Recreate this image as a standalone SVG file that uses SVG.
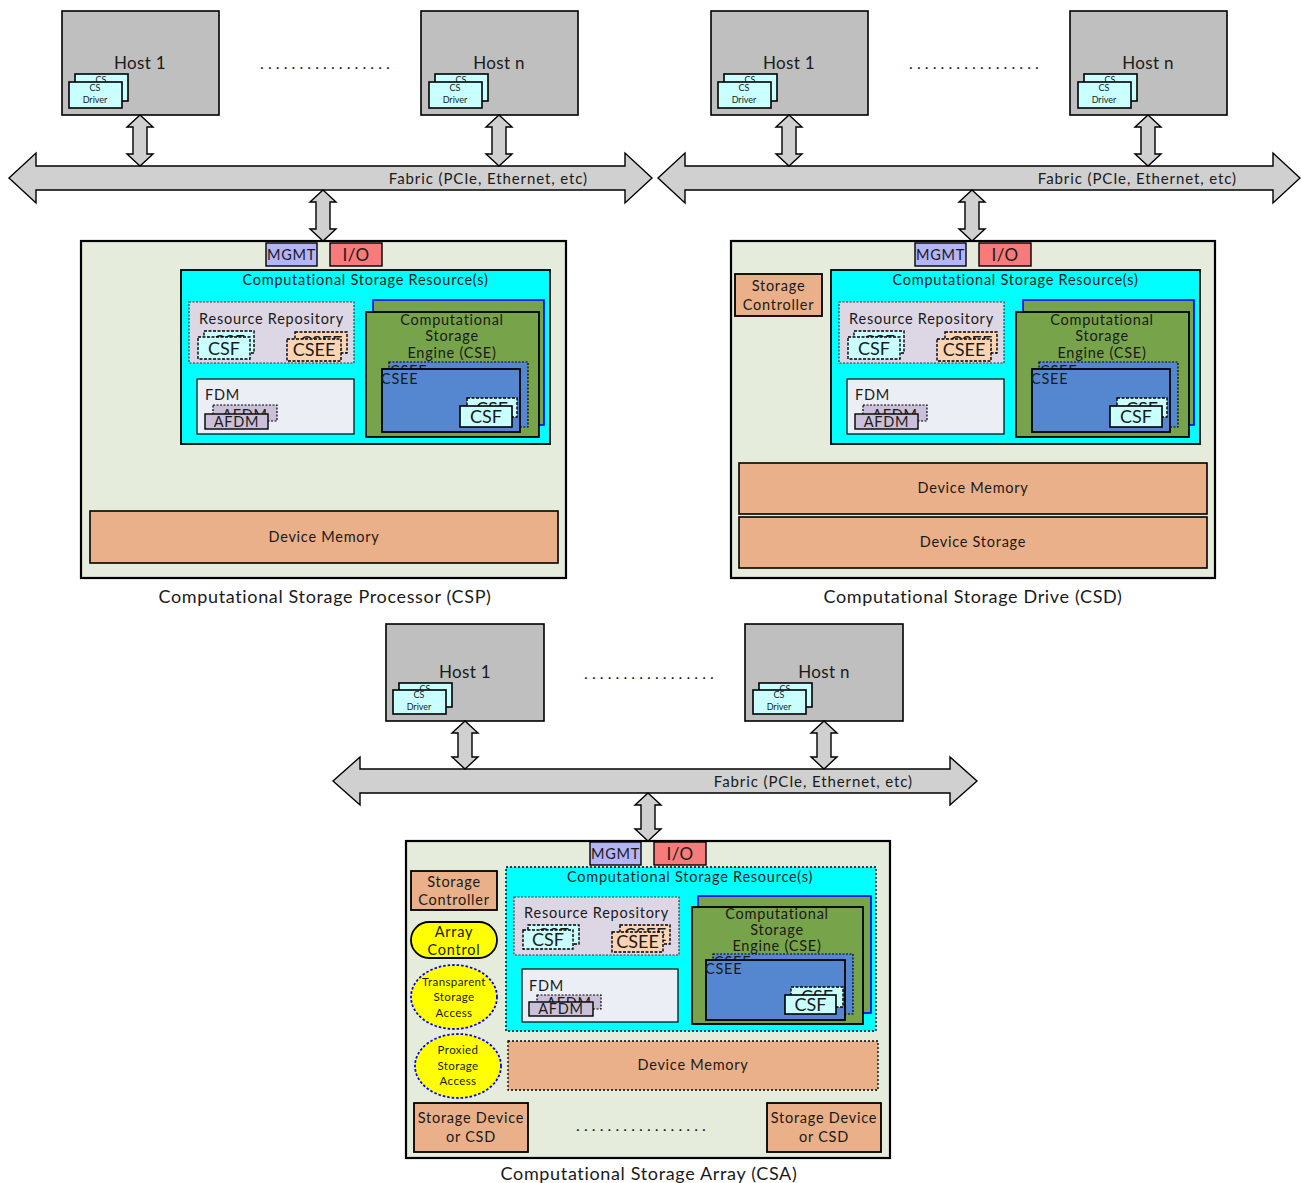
<svg xmlns="http://www.w3.org/2000/svg" width="1301" height="1183" viewBox="0 0 1301 1183">
  <style>
    text { font-family: Lato, "Liberation Sans", sans-serif; fill: #1a1a1a; }
    .mid { text-anchor: middle; }
    .host { fill: #bfbfbf; stroke: #000; stroke-width: 1.6; }
    .drv { fill: #c9ffff; stroke: #000; stroke-width: 1.6; }
    .bus { fill: #d0d0d0; stroke: #000; stroke-width: 1.4; stroke-linejoin: miter; }
    .dev { fill: #e5ecdb; stroke: #000; stroke-width: 2.2; }
    .mgmt { fill: #b4b4f6; stroke: #000; stroke-width: 1.4; }
    .io { fill: #f87b7b; stroke: #000; stroke-width: 1.4; }
    .csr { fill: #00ffff; stroke: #000; stroke-width: 1.8; }
    .csr-dot { fill: #00ffff; stroke: #000; stroke-width: 1.4; stroke-dasharray: 2 2; }
    .repo { fill: #ddd6e4; stroke: #333; stroke-width: 1.2; stroke-dasharray: 2 1.5; }
    .csf { fill: #c9ffff; stroke: #000; stroke-width: 1.4; stroke-dasharray: 3 1.5; }
    .csf-solid { fill: #c9ffff; stroke: #000; stroke-width: 1.6; }
    .csee { fill: #fbd4b4; stroke: #000; stroke-width: 1.4; stroke-dasharray: 3 1.5; }
    .fdm { fill: #ebeef5; stroke: #000; stroke-width: 1.2; }
    .afdm { fill: #cbc0d9; stroke: #000; stroke-width: 1.4; }
    .afdm-dot { fill: #cbc0d9; stroke: #000; stroke-width: 1.2; stroke-dasharray: 2 1.5; }
    .cse-back { fill: #77a34b; stroke: #0000ff; stroke-width: 1.6; }
    .cse { fill: #77a34b; stroke: #000; stroke-width: 1.8; }
    .env-back { fill: #5587d0; stroke: #000; stroke-width: 1.2; stroke-dasharray: 2 1.5; }
    .env { fill: #5587d0; stroke: #000; stroke-width: 1.8; }
    .mem { fill: #eab089; stroke: #000; stroke-width: 1.6; }
    .mem-dot { fill: #eab089; stroke: #000; stroke-width: 1.3; stroke-dasharray: 2 2; }
    .ctl { fill: #eab089; stroke: #000; stroke-width: 1.8; }
    .yel { fill: #ffff00; stroke: #000; stroke-width: 1.8; }
    .yel-dash { fill: #ffff00; stroke: #0000ff; stroke-width: 1.8; stroke-dasharray: 2.5 2; }
    .t9 { font-size: 9px; }
    .t11 { font-size: 11.5px; letter-spacing: 0.4px; }
    .t14 { font-size: 14.5px; letter-spacing: 0.75px; }
    .t17 { font-size: 17px; letter-spacing: 0.3px; }
    .t18 { font-size: 18px; }
    .cap { font-size: 18px; letter-spacing: 0.65px; }
    .fab { font-size: 15px; letter-spacing: 0.9px; text-anchor: end; }
    .dots { font-size: 16px; letter-spacing: 4.1px; }
  </style>

  <!-- ============ Panel 1 : CSP ============ -->
  <g id="csp-host-1" transform="translate(62,11)">
    <rect class="host" x="0" y="0" width="157" height="104"/>
    <text class="mid t17" x="78" y="58">Host 1</text>
    <rect class="drv" x="13" y="63" width="53" height="27"/>
    <text class="mid t9" x="39" y="72">CS</text>
    <rect class="drv" x="7" y="71" width="53" height="26"/>
    <text class="mid t9" x="33" y="80">CS</text>
    <text class="mid t9" x="33" y="92">Driver</text>
  </g>
  <g id="csp-host-n" transform="translate(421,11)">
    <rect class="host" x="0" y="0" width="157" height="104"/>
    <text class="mid t17" x="78" y="58">Host n</text>
    <rect class="drv" x="14" y="63" width="53" height="27"/>
    <text class="mid t9" x="40" y="72">CS</text>
    <rect class="drv" x="8" y="71" width="53" height="26"/>
    <text class="mid t9" x="34" y="80">CS</text>
    <text class="mid t9" x="34" y="92">Driver</text>
  </g>
  <text id="csp-host-gap" class="dots" x="260" y="69">.................</text>

  <g id="csp-device">
    <rect class="dev" x="81" y="241" width="485" height="337"/>
    <rect class="mgmt" x="266" y="243" width="51" height="23"/>
    <text class="mid t14" x="291.5" y="260">MGMT</text>
    <rect class="io" x="330" y="243" width="52" height="23"/>
    <text class="mid t17" x="356" y="261">I/O</text>

    <g id="csp-csr">
      <rect class="csr" x="181" y="270" width="369" height="174"/>
      <text class="mid t14" x="365.5" y="285">Computational Storage Resource(s)</text>
      <rect class="repo" x="189" y="302" width="165" height="61"/>
      <text class="mid t14" x="271.5" y="324">Resource Repository</text>
      <rect class="csf" x="204" y="331" width="50" height="22"/>
      <text class="mid t18" x="229" y="348">CSF</text>
      <rect class="csf" x="198" y="337" width="52" height="22"/>
      <text class="mid t18" x="224" y="355">CSF</text>
      <rect class="csee" x="295" y="332" width="52" height="21"/>
      <text class="mid t18" x="321" y="349">CSEE</text>
      <rect class="csee" x="287" y="339" width="54" height="22"/>
      <text class="mid t18" x="314" y="356">CSEE</text>
      <rect class="fdm" x="197" y="379" width="157" height="55"/>
      <text class="t14" x="205" y="400">FDM</text>
      <rect class="afdm-dot" x="213" y="405" width="64" height="16"/>
      <text class="mid t14" x="245" y="420">AFDM</text>
      <rect class="afdm" x="205" y="414" width="63" height="15"/>
      <text class="mid t14" x="236.5" y="427">AFDM</text>
      <rect class="cse-back" x="373" y="300" width="171" height="125"/>
      <rect class="cse" x="366" y="312" width="173" height="125"/>
      <text class="mid t14" x="452" y="325">Computational</text>
      <text class="mid t14" x="452" y="341">Storage</text>
      <text class="mid t14" x="452" y="358">Engine (CSE)</text>
      <rect class="env-back" x="389" y="362" width="139" height="65"/>
      <text class="t14" x="390" y="376">CSEE</text>
      <rect class="env" x="382" y="369" width="138" height="63"/>
      <text class="t14" x="381" y="384">CSEE</text>
      <rect class="csf" x="467" y="398" width="50" height="19"/>
      <text class="mid t18" x="492" y="415">CSF</text>
      <rect class="csf-solid" x="460" y="406" width="52" height="21"/>
      <text class="mid t18" x="486" y="423">CSF</text>
    </g>

    <rect class="mem" x="90" y="511" width="468" height="52"/>
    <text class="mid t14" x="324" y="542">Device Memory</text>
  </g>
  <text id="csp-caption" class="mid cap" x="325" y="603">Computational Storage Processor (CSP)</text>

  <!-- ============ Panel 2 : CSD ============ -->
  <g id="csd-host-1" transform="translate(711,11)">
    <rect class="host" x="0" y="0" width="157" height="104"/>
    <text class="mid t17" x="78" y="58">Host 1</text>
    <rect class="drv" x="13" y="63" width="53" height="27"/>
    <text class="mid t9" x="39" y="72">CS</text>
    <rect class="drv" x="7" y="71" width="53" height="26"/>
    <text class="mid t9" x="33" y="80">CS</text>
    <text class="mid t9" x="33" y="92">Driver</text>
  </g>
  <g id="csd-host-n" transform="translate(1070,11)">
    <rect class="host" x="0" y="0" width="157" height="104"/>
    <text class="mid t17" x="78" y="58">Host n</text>
    <rect class="drv" x="14" y="63" width="53" height="27"/>
    <text class="mid t9" x="40" y="72">CS</text>
    <rect class="drv" x="8" y="71" width="53" height="26"/>
    <text class="mid t9" x="34" y="80">CS</text>
    <text class="mid t9" x="34" y="92">Driver</text>
  </g>
  <text id="csd-host-gap" class="dots" x="909" y="69">.................</text>

  <g id="csd-device">
    <rect class="dev" x="731" y="241" width="484" height="337"/>
    <rect class="mgmt" x="915" y="243" width="51" height="23"/>
    <text class="mid t14" x="940.5" y="260">MGMT</text>
    <rect class="io" x="979" y="243" width="52" height="23"/>
    <text class="mid t17" x="1005" y="261">I/O</text>
    <rect class="ctl" x="735" y="274" width="87" height="42"/>
    <text class="mid t14" x="778.5" y="291">Storage</text>
    <text class="mid t14" x="778.5" y="310">Controller</text>

    <g id="csd-csr" transform="translate(650,0)">
      <rect class="csr" x="181" y="270" width="369" height="174"/>
      <text class="mid t14" x="365.5" y="285">Computational Storage Resource(s)</text>
      <rect class="repo" x="189" y="302" width="165" height="61"/>
      <text class="mid t14" x="271.5" y="324">Resource Repository</text>
      <rect class="csf" x="204" y="331" width="50" height="22"/>
      <text class="mid t18" x="229" y="348">CSF</text>
      <rect class="csf" x="198" y="337" width="52" height="22"/>
      <text class="mid t18" x="224" y="355">CSF</text>
      <rect class="csee" x="295" y="332" width="52" height="21"/>
      <text class="mid t18" x="321" y="349">CSEE</text>
      <rect class="csee" x="287" y="339" width="54" height="22"/>
      <text class="mid t18" x="314" y="356">CSEE</text>
      <rect class="fdm" x="197" y="379" width="157" height="55"/>
      <text class="t14" x="205" y="400">FDM</text>
      <rect class="afdm-dot" x="213" y="405" width="64" height="16"/>
      <text class="mid t14" x="245" y="420">AFDM</text>
      <rect class="afdm" x="205" y="414" width="63" height="15"/>
      <text class="mid t14" x="236.5" y="427">AFDM</text>
      <rect class="cse-back" x="373" y="300" width="171" height="125"/>
      <rect class="cse" x="366" y="312" width="173" height="125"/>
      <text class="mid t14" x="452" y="325">Computational</text>
      <text class="mid t14" x="452" y="341">Storage</text>
      <text class="mid t14" x="452" y="358">Engine (CSE)</text>
      <rect class="env-back" x="389" y="362" width="139" height="65"/>
      <text class="t14" x="390" y="376">CSEE</text>
      <rect class="env" x="382" y="369" width="138" height="63"/>
      <text class="t14" x="381" y="384">CSEE</text>
      <rect class="csf" x="467" y="398" width="50" height="19"/>
      <text class="mid t18" x="492" y="415">CSF</text>
      <rect class="csf-solid" x="460" y="406" width="52" height="21"/>
      <text class="mid t18" x="486" y="423">CSF</text>
    </g>

    <rect class="mem" x="739" y="463" width="468" height="51"/>
    <text class="mid t14" x="973" y="493">Device Memory</text>
    <rect class="mem" x="739" y="517" width="468" height="51"/>
    <text class="mid t14" x="973" y="547">Device Storage</text>
  </g>
  <text id="csd-caption" class="mid cap" x="973" y="603">Computational Storage Drive (CSD)</text>

  <!-- ============ Panel 3 : CSA ============ -->
  <g id="csa-host-1" transform="translate(386,624)">
    <rect class="host" x="0" y="0" width="158" height="97"/>
    <text class="mid t17" x="79" y="54">Host 1</text>
    <rect class="drv" x="13" y="59" width="53" height="24"/>
    <text class="mid t9" x="39" y="68">CS</text>
    <rect class="drv" x="7" y="66" width="53" height="24"/>
    <text class="mid t9" x="33" y="74">CS</text>
    <text class="mid t9" x="33" y="86">Driver</text>
  </g>
  <g id="csa-host-n" transform="translate(745,624)">
    <rect class="host" x="0" y="0" width="158" height="97"/>
    <text class="mid t17" x="79" y="54">Host n</text>
    <rect class="drv" x="14" y="59" width="53" height="24"/>
    <text class="mid t9" x="40" y="68">CS</text>
    <rect class="drv" x="8" y="66" width="53" height="24"/>
    <text class="mid t9" x="34" y="74">CS</text>
    <text class="mid t9" x="34" y="86">Driver</text>
  </g>
  <text id="csa-host-gap" class="dots" x="584" y="679">.................</text>

  <g id="csa-device">
    <rect class="dev" x="406" y="841" width="484" height="317"/>
    <rect class="mgmt" x="590" y="842" width="51" height="23"/>
    <text class="mid t14" x="615.5" y="859">MGMT</text>
    <rect class="io" x="654" y="842" width="52" height="23"/>
    <text class="mid t17" x="680" y="860">I/O</text>

    <rect class="ctl" x="411" y="871" width="86" height="39"/>
    <text class="mid t14" x="454" y="887">Storage</text>
    <text class="mid t14" x="454" y="905">Controller</text>
    <rect class="yel" x="411" y="922" width="86" height="36" rx="18" ry="18"/>
    <text class="mid t14" x="454" y="937">Array</text>
    <text class="mid t14" x="454" y="955">Control</text>
    <ellipse class="yel-dash" cx="454" cy="997" rx="43" ry="32"/>
    <text class="mid t11" x="454" y="986">Transparent</text>
    <text class="mid t11" x="454" y="1001">Storage</text>
    <text class="mid t11" x="454" y="1017">Access</text>
    <ellipse class="yel-dash" cx="458" cy="1066" rx="43" ry="32"/>
    <text class="mid t11" x="458" y="1054">Proxied</text>
    <text class="mid t11" x="458" y="1070">Storage</text>
    <text class="mid t11" x="458" y="1085">Access</text>

    <g id="csa-csr">
      <rect class="csr-dot" x="506" y="867" width="370" height="164"/>
      <text class="mid t14" x="690" y="882">Computational Storage Resource(s)</text>
      <rect class="repo" x="514" y="897" width="165" height="58"/>
      <text class="mid t14" x="596.5" y="918">Resource Repository</text>
      <rect class="csf" x="528" y="925" width="51" height="19"/>
      <text class="mid t18" x="553" y="941">CSF</text>
      <rect class="csf" x="523" y="930" width="50" height="19"/>
      <text class="mid t18" x="548" y="946">CSF</text>
      <rect class="csee" x="620" y="925" width="50" height="19"/>
      <text class="mid t18" x="645" y="941">CSEE</text>
      <rect class="csee" x="612" y="932" width="51" height="20"/>
      <text class="mid t18" x="637.5" y="948">CSEE</text>
      <rect class="fdm" x="522" y="969" width="156" height="53"/>
      <text class="t14" x="529" y="991">FDM</text>
      <rect class="afdm-dot" x="537" y="995" width="64" height="14"/>
      <text class="mid t14" x="569" y="1008">AFDM</text>
      <rect class="afdm" x="529" y="1002" width="64" height="14"/>
      <text class="mid t14" x="561" y="1014">AFDM</text>
      <rect class="cse-back" x="698" y="896" width="173" height="117"/>
      <rect class="cse" x="692" y="907" width="171" height="117"/>
      <text class="mid t14" x="777" y="919">Computational</text>
      <text class="mid t14" x="777" y="935">Storage</text>
      <text class="mid t14" x="777" y="951">Engine (CSE)</text>
      <rect class="env-back" x="713" y="954" width="140" height="60"/>
      <text class="t14" x="714" y="967">CSEE</text>
      <rect class="env" x="706" y="960" width="139" height="60"/>
      <text class="t14" x="705" y="974">CSEE</text>
      <rect class="csf" x="791" y="987" width="52" height="20"/>
      <text class="mid t18" x="817" y="1003">CSF</text>
      <rect class="csf-solid" x="785" y="995" width="51" height="19"/>
      <text class="mid t18" x="810.5" y="1011">CSF</text>
    </g>

    <rect class="mem-dot" x="508" y="1041" width="370" height="49"/>
    <text class="mid t14" x="693" y="1070">Device Memory</text>

    <rect class="ctl" x="414" y="1103" width="114" height="49"/>
    <text class="mid t14" x="471" y="1123">Storage Device</text>
    <text class="mid t14" x="471" y="1142">or CSD</text>
    <text class="dots" x="576" y="1131">.................</text>
    <rect class="ctl" x="767" y="1103" width="114" height="49"/>
    <text class="mid t14" x="824" y="1123">Storage Device</text>
    <text class="mid t14" x="824" y="1142">or CSD</text>
  </g>
  <text id="csa-caption" class="mid cap" x="649" y="1180">Computational Storage Array (CSA)</text>

  <!-- ============ Fabrics and links ============ -->
  <g id="connectors">
    <!-- CSP fabric -->
    <path class="bus" d="M9,178 L36,153 L36,166 L625,166 L625,153 L652,178 L625,203 L625,190 L36,190 L36,203 Z"/>
    <text class="fab" x="588" y="184">Fabric (PCIe, Ethernet, etc)</text>
    <path class="bus" d="M140,115 L153,127 L147,127 L147,154 L153,154 L140,166 L127,154 L133,154 L133,127 L127,127 Z"/>
    <path class="bus" d="M499,115 L512,127 L506,127 L506,154 L512,154 L499,166 L486,154 L492,154 L492,127 L486,127 Z"/>
    <path class="bus" d="M323,190 L336,202 L330,202 L330,229 L336,229 L323,241 L310,229 L316,229 L316,202 L310,202 Z"/>

    <!-- CSD fabric -->
    <path class="bus" d="M658,178 L685,153 L685,166 L1273,166 L1273,153 L1300,178 L1273,203 L1273,190 L685,190 L685,203 Z"/>
    <text class="fab" x="1237" y="184">Fabric (PCIe, Ethernet, etc)</text>
    <path class="bus" d="M789,115 L802,127 L796,127 L796,154 L802,154 L789,166 L776,154 L782,154 L782,127 L776,127 Z"/>
    <path class="bus" d="M1148,115 L1161,127 L1155,127 L1155,154 L1161,154 L1148,166 L1135,154 L1141,154 L1141,127 L1135,127 Z"/>
    <path class="bus" d="M972,190 L985,202 L979,202 L979,229 L985,229 L972,241 L959,229 L965,229 L965,202 L959,202 Z"/>

    <!-- CSA fabric -->
    <path class="bus" d="M333,781 L360,757 L360,769 L950,769 L950,757 L977,781 L950,805 L950,793 L360,793 L360,805 Z"/>
    <text class="fab" x="913" y="787">Fabric (PCIe, Ethernet, etc)</text>
    <path class="bus" d="M465,721 L478,733 L472,733 L472,757 L478,757 L465,769 L452,757 L458,757 L458,733 L452,733 Z"/>
    <path class="bus" d="M824,721 L837,733 L831,733 L831,757 L837,757 L824,769 L811,757 L817,757 L817,733 L811,733 Z"/>
    <path class="bus" d="M648,793 L661,805 L655,805 L655,829 L661,829 L648,841 L635,829 L641,829 L641,805 L635,805 Z"/>
  </g>
</svg>
